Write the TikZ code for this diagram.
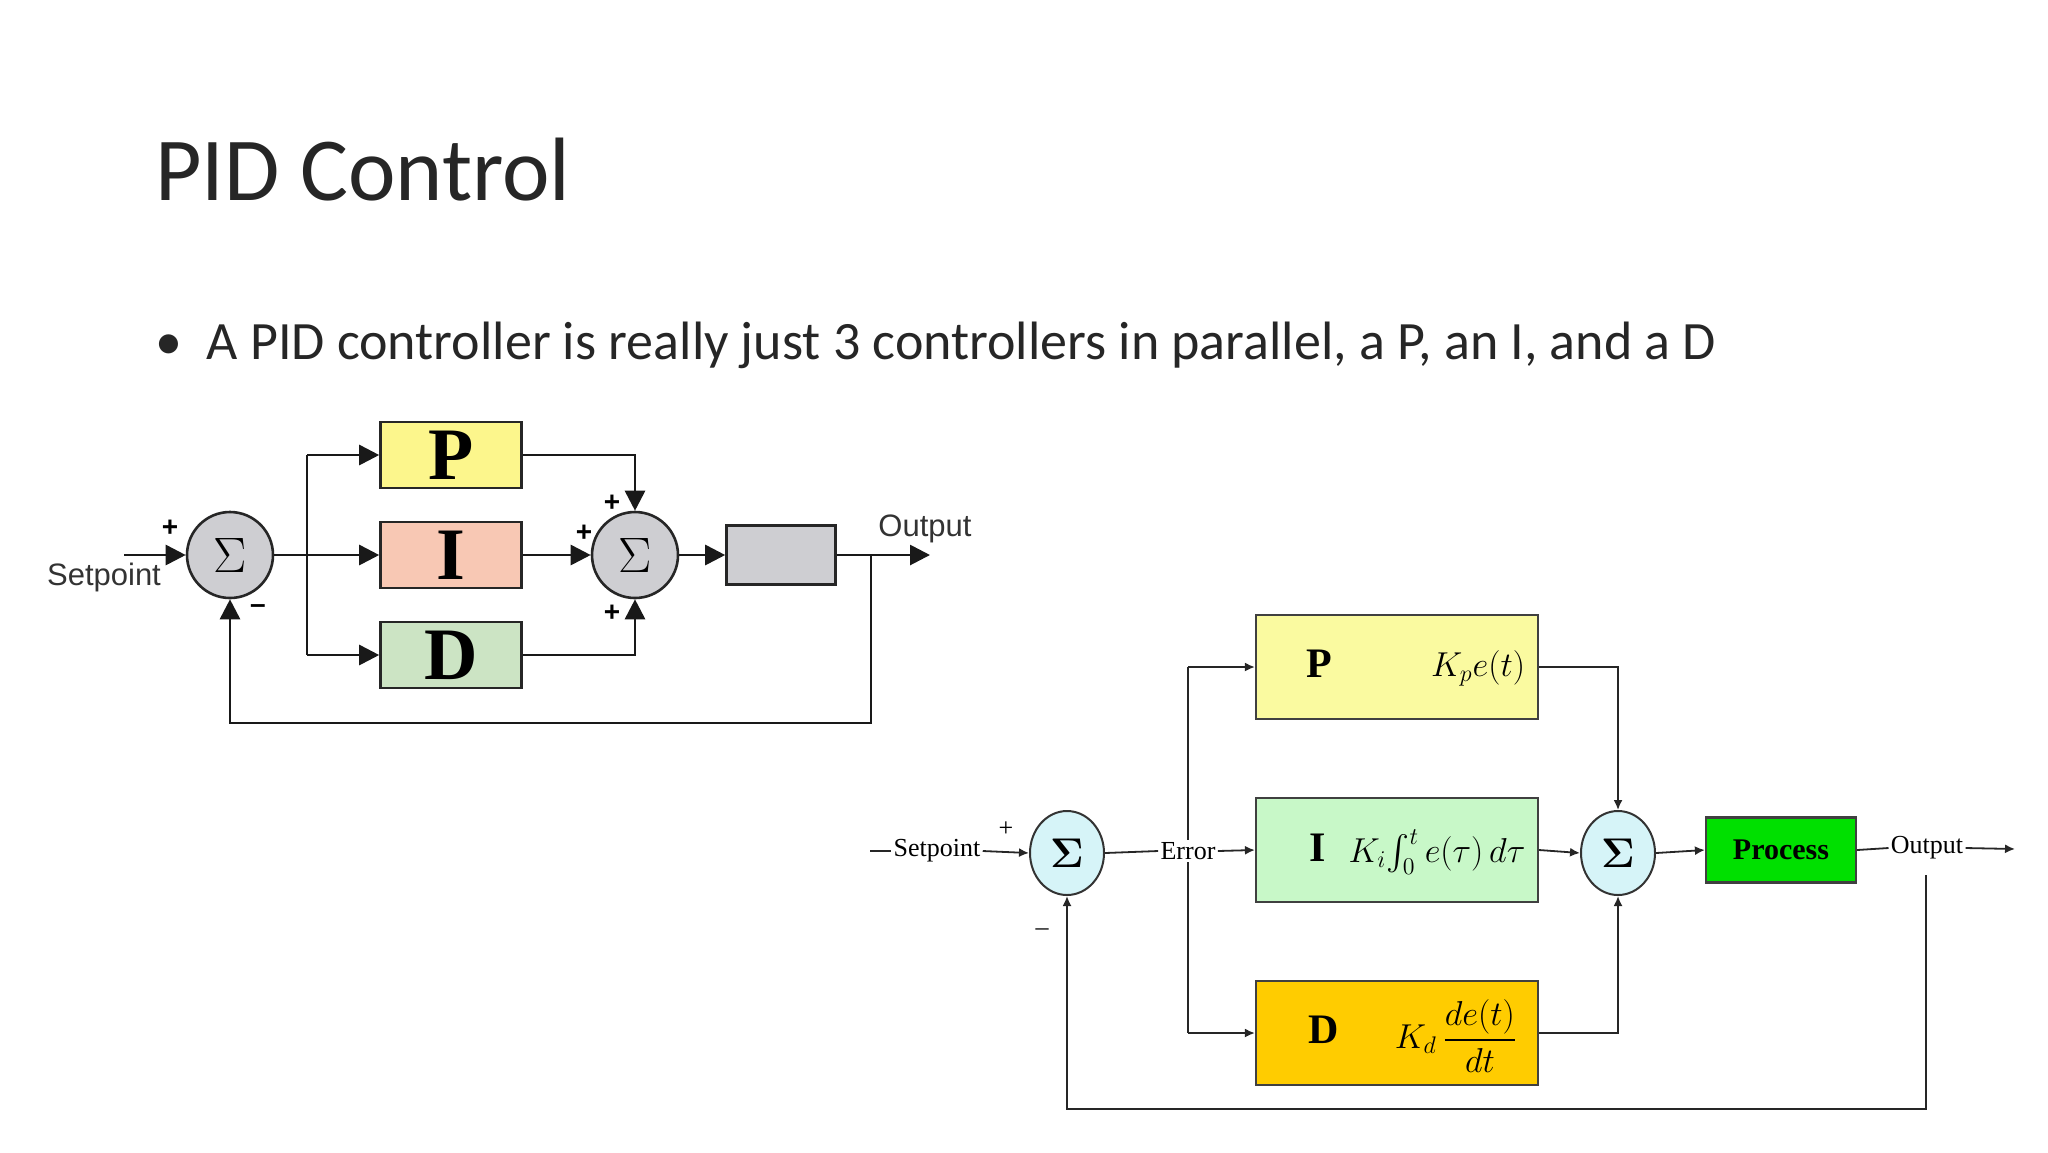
\documentclass[tikz,border=0pt]{standalone}
\usepackage{fontspec}
\usepackage{amsmath}
\setmainfont{Liberation Serif}
\newfontfamily\calib{Carlito}
\newfontfamily\arial{Liberation Sans}
\usetikzlibrary{arrows.meta,shapes.geometric}
\definecolor{lP}{RGB}{252,246,140}
\definecolor{lI}{RGB}{248,200,180}
\definecolor{lD}{RGB}{204,228,196}
\definecolor{lG}{RGB}{206,206,210}
\definecolor{rP}{RGB}{250,250,160}
\definecolor{rI}{RGB}{200,248,200}
\definecolor{rD}{RGB}{255,204,0}
\definecolor{rPr}{RGB}{0,224,0}
\definecolor{rS}{RGB}{214,244,248}
\tikzset{
  x=0.5pt,y=-0.5pt,
  lbox/.style={draw=black!85,line width=1.3pt,minimum width=70.5pt,minimum height=33pt,inner sep=0pt,font=\fontsize{37}{37}\selectfont\bfseries},
  lsum/.style={circle,draw=black!85,line width=1.3pt,fill=lG,minimum size=43pt,inner sep=0pt,font=\fontsize{34}{34}\selectfont},
  lline/.style={line width=1.4pt,black!90},
  larr/.style={lline,-{Triangle[length=10pt,width=10pt]}},
  ltxt/.style={font=\arial\fontsize{15.5}{16}\selectfont,text=black!80,inner sep=0pt},
  lsign/.style={font=\arial\bfseries\fontsize{14}{14}\selectfont,inner sep=0pt},
  rbox/.style={draw=black!75,line width=1.1pt,minimum width=141pt,minimum height=52pt,inner sep=0pt},
  rsum/.style={ellipse,draw=black!80,line width=1pt,fill=rS,minimum width=37pt,minimum height=42pt,inner sep=0pt,font=\fontsize{20}{20}\selectfont\bfseries},
  rline/.style={line width=0.9pt,black!85},
  rarr/.style={rline,-{Latex[length=5pt,width=4.5pt]}},
  rtxt/.style={font=\fontsize{13}{13}\selectfont,inner sep=1pt},
  rlet/.style={font=\fontsize{21}{21}\selectfont\bfseries,inner sep=0pt},
  rmath/.style={font=\fontsize{17}{17}\selectfont,inner sep=0pt}
}
\begin{document}
\begin{tikzpicture}
\useasboundingbox (0,0) rectangle (2048,1152);
% title
\node[anchor=west,inner sep=0pt,font=\calib\fontsize{45}{45}\selectfont,text=black!85] (title) at (155,170) {PID Control};
\node[anchor=west,inner sep=0pt,font=\calib\fontsize{27}{27}\selectfont,text=black!85] (bul) at (155,345) {\textbullet\ \ A PID controller is really just 3 controllers in parallel, a P, an I, and a D};
% ---------- left diagram ----------
\node[lsum] (s1) at (230,555) {$\Sigma$};
\node[lbox,fill=lP] (P1) at (451,455) {P};
\node[lbox,fill=lI] (I1) at (451,555) {I};
\node[lbox,fill=lD] (D1) at (451,655) {D};
\node[lsum] (s2) at (635,555) {$\Sigma$};
\node[draw=black!85,line width=1.3pt,fill=lG,minimum width=54.5pt,minimum height=29.5pt,inner sep=0pt] (G) at (781,555) {};
\coordinate (in1) at (124,555);
\coordinate (br1) at (307,555);
\coordinate (brP) at (307,455);
\coordinate (brD) at (307,655);
\coordinate (o1) at (871,555);
\coordinate (out1) at (930,555);
\coordinate (fb1) at (871,723);
\coordinate (fb2) at (230,723);
\coordinate (pc) at (635,455);
\coordinate (dc) at (635,655);
\draw[larr] (in1) -- (s1.west);
\draw[lline] (s1.east) -- (br1);
\draw[lline] (brP) -- (brD);
\draw[larr] (brP) -- (P1.west);
\draw[larr] (br1) -- (I1.west);
\draw[larr] (brD) -- (D1.west);
\draw[larr] (P1.east) -- (pc) -- (s2.north);
\draw[larr] (I1.east) -- (s2.west);
\draw[larr] (D1.east) -- (dc) -- (s2.south);
\draw[larr] (s2.east) -- (G.west);
\draw[larr] (G.east) -- (out1);
\draw[larr] (o1) -- (fb1) -- (fb2) -- (s1.south);
\node[ltxt] (sp1) at (104,577) {Setpoint};
\node[ltxt] (op1) at (925,529) {Output};
\node[lsign] (pl1) at (170,528) {+};
\node[lsign] (mi1) at (258,609) {\textendash};
\node[lsign] (pl2) at (612,503) {+};
\node[lsign] (pl3) at (584,533) {+};
\node[lsign] (pl4) at (612,613) {+};
% ---------- right diagram ----------
\node[rsum] (s3) at (1067,853) {$\boldsymbol\Sigma$};
\node[rsum] (s4) at (1618,853) {$\boldsymbol\Sigma$};
\node[rbox,fill=rP] (P2) at (1397,667) {};
\node[rbox,fill=rI] (I2) at (1397,850) {};
\node[rbox,fill=rD] (D2) at (1397,1033) {};
\node[draw=black!75,line width=1.1pt,fill=rPr,minimum width=75pt,minimum height=32.5pt,inner sep=0pt,font=\fontsize{15}{15}\selectfont\bfseries] (proc) at (1781,850) {Process};
\node[rlet] (Pl) at (1319,664) {P};
\node[rlet] (Il) at (1318,848) {I};
\node[rlet] (Dl) at (1324,1030) {D};
\node[rmath] (Pf) at (1478,668) {$K_p e(t)$};
\node[rmath] (If) at (1437,852) {$K_i\!\int_0^t e(\tau)\,d\tau$};
\node[rmath] (Df) at (1456,1036) {$K_d\,\dfrac{de(t)}{dt}$};
\coordinate (st) at (870,851);
\coordinate (ebT) at (1188,667);
\coordinate (ebB) at (1188,1033);
\coordinate (p4) at (1618,667);
\coordinate (d4) at (1618,1033);
\coordinate (oend) at (2015,849);
\coordinate (fb3) at (1926,875);
\coordinate (fb4) at (1926,1109);
\coordinate (fb5) at (1067,1109);
\draw[rline] (ebT) -- (ebB);
\draw[rarr] (ebT) -- (P2.west);
\draw[rarr] (ebB) -- (D2.west);
\node[rtxt,fill=white] (err) at (1188,851) {Error};
\node[rtxt] (sp2) at (937,851) {Setpoint};
\node[rtxt] (op2) at (1927,848) {Output};
\draw[rline] (st) -- (sp2.west);
\draw[rarr] (sp2.east) -- (s3.west);
\draw[rline] (s3.east) -- (err.west);
\draw[rarr] (err.east) -- (I2.west);
\draw[rarr] (P2.east) -- (p4) -- (s4.north);
\draw[rarr] (I2.east) -- (s4.west);
\draw[rarr] (D2.east) -- (d4) -- (s4.south);
\draw[rarr] (s4.east) -- (proc.west);
\draw[rline] (proc.east) -- (op2.west);
\draw[rarr] (op2.east) -- (oend);
\draw[rarr] (fb3) -- (fb4) -- (fb5) -- (s3.south);
\node[rtxt] (pl5) at (1006,829) {+};
\node[rtxt] (mi2) at (1042,932) {\textendash};
\end{tikzpicture}
\end{document}
